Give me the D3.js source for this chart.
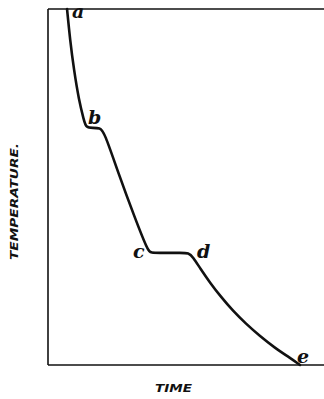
<!DOCTYPE html>
<html>
<head>
<meta charset="utf-8">
<script src="https://cdn.jsdelivr.net/npm/d3@7"></script>
<style>
  html, body { margin: 0; padding: 0; background: #fff; }
  svg { display: block; }
</style>
</head>
<body>
<script>
// Cooling curve: temperature falling with time, with two arrest plateaus (b and c–d).
const time = [6.9, 8.0, 9.4, 11.2, 13.0, 13.8, 16.3, 18.8, 20.3, 25.7, 31.2, 36.2, 37.3, 40.6, 44.2, 47.8, 51.1, 52.5,
              55.1, 58.7, 62.7, 67.0, 71.7, 76.8, 82.2, 87.7, 91.3];
const temperature = [100, 91.3, 82.9, 74.4, 68.8, 66.6, 66.6, 66.6, 65.7, 53.4, 41.9, 32.0, 31.5, 31.5, 31.5, 31.5, 31.5, 30.3,
                     27.2, 23.1, 19.1, 15.2, 11.6, 8.1, 4.8, 2.0, 0];
const pointLabels = ["a", "b", "c", "d", "e"];
const labelIndex = [0, 5, 12, 16, 26];
const axisTitles = ["TIME", "TEMPERATURE."];

const W = 324, H = 399;
const svg = d3.select("body").append("svg").attr("width", W).attr("height", H);

const x = d3.scaleLinear().domain([0, 100]).range([48, 324]);
const y = d3.scaleLinear().domain([0, 100]).range([365, 9]);

const ink = "#111";

// frame: left, top and bottom edges
const frame = svg.append("g").attr("stroke", ink).attr("stroke-width", 1.6).attr("fill", "none");
frame.append("line").attr("x1", x(0)).attr("x2", x(0)).attr("y1", y(100)).attr("y2", y(0));
frame.append("line").attr("x1", x(0)).attr("x2", x(100)).attr("y1", y(100)).attr("y2", y(100));
frame.append("line").attr("x1", x(0)).attr("x2", x(100)).attr("y1", y(0)).attr("y2", y(0));

const pts = time.map((t, i) => [t, temperature[i]]);
const line = d3.line().x(d => x(d[0])).y(d => y(d[1])).curve(d3.curveBasis);
svg.append("path").datum(pts)
  .attr("d", line)
  .attr("fill", "none").attr("stroke", ink)
  .attr("stroke-width", 2.6).attr("stroke-linejoin", "round").attr("stroke-linecap", "round");

// point letters
const offsets = { a: [5, 9], b: [2, -4], c: [-18, 5], d: [8, 5], e: [-3, -2] };
svg.append("g").selectAll("text").data(labelIndex).join("text")
  .attr("x", (d, i) => x(time[d]) + offsets[pointLabels[i]][0])
  .attr("y", (d, i) => y(temperature[d]) + offsets[pointLabels[i]][1])
  .attr("font-family", "DejaVu Serif")
  .attr("font-style", "italic").attr("font-weight", "bold")
  .attr("font-size", 19).attr("fill", ink)
  .text((d, i) => pointLabels[i]);

// axis titles
svg.append("text")
  .attr("x", 155).attr("y", 392)
  .attr("textLength", 37).attr("lengthAdjust", "spacingAndGlyphs")
  .attr("font-family", "DejaVu Sans").attr("font-style", "italic").attr("font-weight", "bold")
  .attr("font-size", 10).attr("fill", ink)
  .text(axisTitles[0]);

svg.append("text")
  .attr("transform", "translate(18,260) rotate(-90)")
  .attr("textLength", 117).attr("lengthAdjust", "spacingAndGlyphs")
  .attr("font-family", "DejaVu Sans").attr("font-style", "italic").attr("font-weight", "bold")
  .attr("font-size", 10.5).attr("fill", ink)
  .text(axisTitles[1]);
</script>
</body>
</html>
